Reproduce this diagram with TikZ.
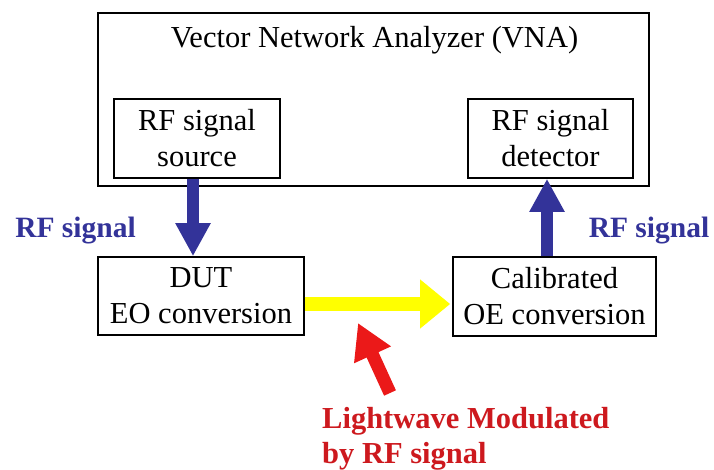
\documentclass[tikz,border=0pt]{standalone}
\usepackage{fontspec}
\setmainfont{Liberation Serif}
\usetikzlibrary{arrows.meta,calc}
\definecolor{rfblue}{RGB}{51,51,153}
\definecolor{lwred}{RGB}{235,25,25}
\definecolor{txtred}{RGB}{205,25,30}
\definecolor{lwyellow}{RGB}{255,255,0}
\tikzset{
  box/.style={draw=black,line width=1.6pt,fill=white,align=center,inner sep=0pt,
    font=\fontsize{30.5}{36}\selectfont},
  bluearrow/.style={draw=rfblue,line width=12.5pt,-{Triangle[width=33pt,length=33pt]}},
  yellowarrow/.style={draw=lwyellow,line width=14pt,-{Triangle[width=47pt,length=30pt]}},
  redarrow/.style={draw=lwred,line width=13pt,-{Triangle[width=38pt,length=35pt]}},
  rflabel/.style={text=rfblue,anchor=base,inner sep=0pt,font=\fontsize{29.5}{35}\selectfont\bfseries},
  redlabel/.style={text=txtred,anchor=base west,align=left,inner sep=0pt,font=\fontsize{30.5}{35}\selectfont\bfseries}
}
\begin{document}
\begin{tikzpicture}[x=1pt,y=-1pt]
\useasboundingbox (0,0) rectangle (714,470);
\node[draw=black,line width=1.6pt,minimum width=551pt,minimum height=173pt,inner sep=0pt] (vna) at (373.5,99.5) {};
\node[anchor=base,font=\fontsize{30.5}{36}\selectfont] (title) at (374.5,48) {Vector Network Analyzer (VNA)};
\node[box,minimum width=166pt,minimum height=79pt] (src) at (197,138.5) {RF signal\\source};
\node[box,minimum width=165pt,minimum height=79pt] (det) at (550.5,138.5) {RF signal\\detector};
\node[box,minimum width=206pt,minimum height=78pt] (dut) at (201,296) {DUT\\EO conversion};
\node[box,minimum width=203pt,minimum height=79pt] (cal) at (554.5,296.5) {Calibrated\\OE conversion};
\draw[bluearrow] ([xshift=-4pt]src.south) -- ([xshift=-4pt]src.south |- dut.north);
\draw[bluearrow] ([xshift=-7.5pt]cal.north) -- ([xshift=-7.5pt]cal.north |- det.south);
\draw[yellowarrow,shorten >=2pt] ([yshift=-8pt]dut.east) -- ([yshift=-8pt]dut.east -| cal.west);
\coordinate (redtail) at (390,393);
\coordinate (redtip) at (358,323);
\draw[redarrow] (redtail) -- (redtip);
\node[rflabel] (rfl) at (75.5,238) {RF signal};
\node[rflabel] (rfr) at (649,238) {RF signal};
\node[redlabel] (lw) at (322,463) {Lightwave Modulated\\by RF signal};
\end{tikzpicture}
\end{document}
